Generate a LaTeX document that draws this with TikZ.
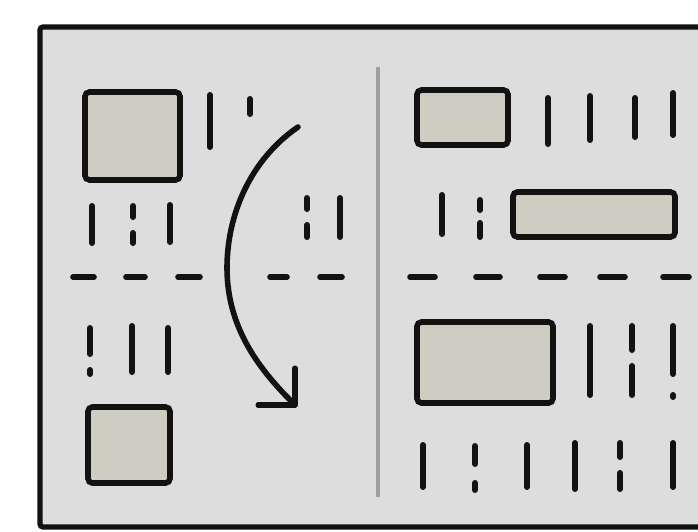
\documentclass[tikz,border=0pt]{standalone}
\usepackage{xcolor}
\usepackage{tikz}
\usetikzlibrary{arrows.meta}
\definecolor{paper}{RGB}{221,221,222}
\definecolor{tilefill}{RGB}{207,205,194}
\definecolor{rulegray}{RGB}{160,160,160}
\definecolor{ink}{RGB}{18,18,18}

\begin{document}
\begin{tikzpicture}[
    x=0.05cm,y=-0.05cm,
    frame/.style={draw=ink,line width=0.26cm,fill=paper,rounded corners=0.15cm},
    tile/.style={draw=ink,line width=0.28cm,fill=tilefill,rounded corners=0.22cm},
    tick/.style={draw=ink,line width=0.3cm,line cap=round},
    dashmark/.style={draw=ink,line width=0.28cm,line cap=round},
    divider/.style={draw=rulegray,line width=0.22cm},
    flip/.style={draw=ink,line width=0.28cm,line cap=round,line join=round,
                 -{Straight Barb[length=1.3cm,width=2.6cm,round]}}
  ]
    \useasboundingbox (0,0) rectangle (698,531);
    \clip (0,0) rectangle (698,531);
    \fill[white] (0,0) rectangle (698,531);
    \draw[frame] (40,27) rectangle (740,527);

    \draw[divider] (378,67) -- (378,497);

    \draw[tile] (85,92) rectangle (180,180);
    \draw[tile] (88,407) rectangle (170,483);
    \draw[tile] (417,90) rectangle (508,145);
    \draw[tile] (513,192) rectangle (675,237);
    \draw[tile] (417,322) rectangle (553,403);

    \foreach \a/\b in {73/94,126/145,178/200,270/287,320/342,410/435,476/500,540/565,600/625,663/689}
      \draw[dashmark] (\a,277) -- (\b,277);

    \foreach \x/\ya/\yb in {210/95/147,250/99/114,92/206/243,133/206/217,133/233/243,
        170/205/242,307/198/209,307/225/237,340/198/237,90/328/354,90/370/374,
        132/326/372,168/328/372,548/98/144,590/96/140,635/98/137,673/93/135,
        442/195/234,480/200/210,480/223/237,590/326/395,632/326/350,632/366/395,
        673/326/374,673/395/397,423/445/487,475/446/464,475/483/490,527/445/487,
        575/443/489,620/443/457,620/473/489,673/443/487}
      \draw[tick] (\x,\ya) -- (\x,\yb);

    \coordinate (flipFrom) at (298,127);
    \coordinate (flipTo) at (297,407);
    \draw[flip] (flipFrom) .. controls (250,160) and (227,215) .. (227,268)
      .. controls (227,330) and (262,372) .. (flipTo);
  \end{tikzpicture}
\end{document}
